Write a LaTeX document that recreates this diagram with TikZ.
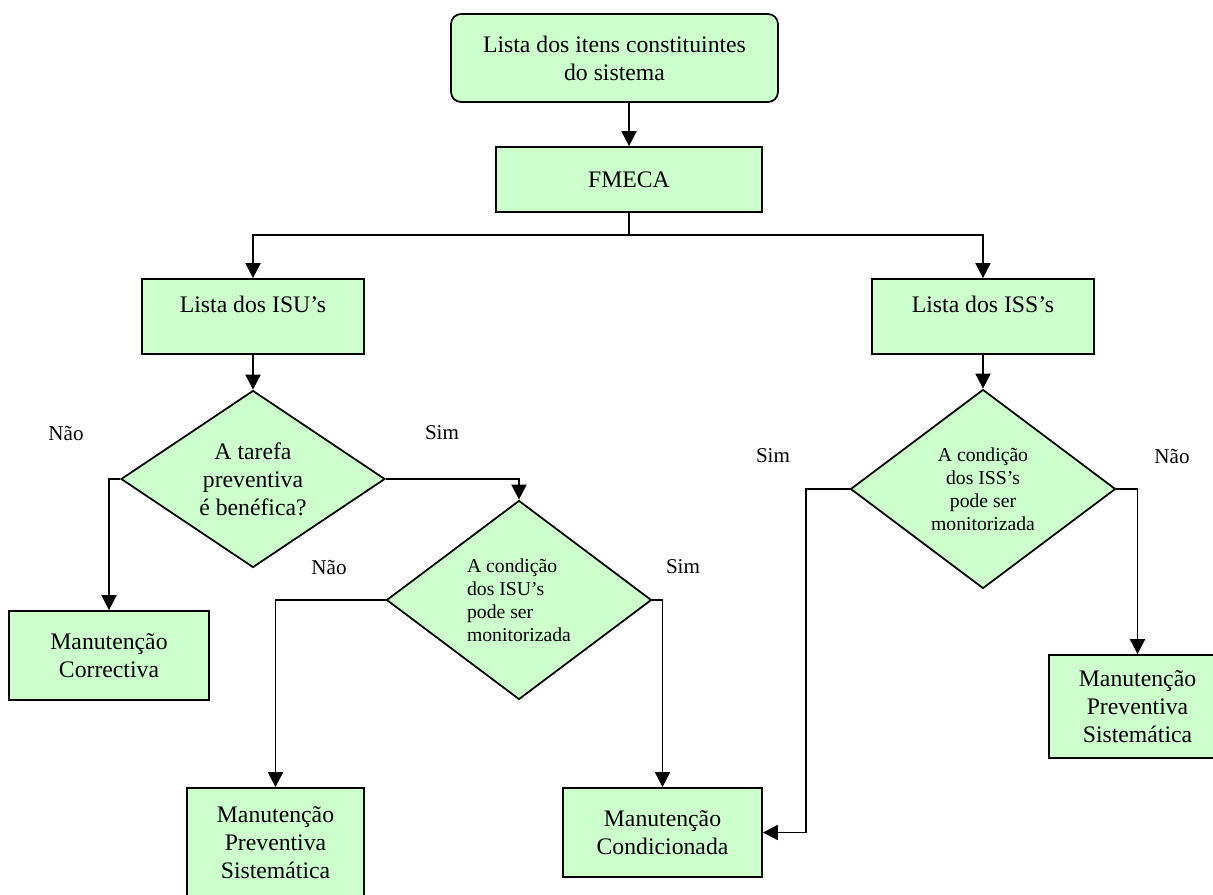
\documentclass[tikz,border=0pt]{standalone}
\usepackage{fontspec}
\setmainfont{Liberation Serif}
\usepackage{xcolor}
\usetikzlibrary{arrows.meta,shapes.geometric}
\definecolor{verdeclaro}{HTML}{CCFFCC}

\begin{document}
\begin{tikzpicture}[
  x=0.02cm, y=-0.02cm,
  caixa/.style={draw, line width=1pt, fill=verdeclaro, align=center, inner sep=0pt, font=\fontsize{13.5}{15.9}\selectfont},
  decisao/.style={draw, diamond, line width=1pt, fill=verdeclaro, inner sep=0pt, aspect=1.33, minimum width=5.3cm, minimum height=3.98cm, font=\fontsize{11.2}{13.1}\selectfont},
  rotulo/.style={font=\fontsize{12}{13}\selectfont},
  seta/.style={-{Triangle[length=0.3cm, width=0.3cm]}, line width=1pt}
]
\useasboundingbox (0,0) rectangle (1213,895);

\node[caixa, rounded corners=0.2cm, minimum width=6.54cm, minimum height=1.76cm] (itens) at (614.5,58) {Lista dos itens constituintes\\do sistema};
\node[caixa, minimum width=5.32cm, minimum height=1.3cm] (fmeca) at (629,179.5) {FMECA};
\coordinate (juncao) at (629,235);
\node[caixa, minimum width=4.44cm, minimum height=1.5cm, text height=0.35cm, text depth=0.53cm] (isu) at (253,316.5) {Lista dos ISU’s};
\node[caixa, minimum width=4.44cm, minimum height=1.5cm, text height=0.35cm, text depth=0.53cm] (iss) at (983,316.5) {Lista dos ISS’s};

\node[decisao, aspect=1.49, minimum width=5.28cm, minimum height=3.54cm, align=center, font=\fontsize{13.5}{15.9}\selectfont] (benefica) at (253,479) {A tarefa\\preventiva\\é benéfica?};
\node[decisao, align=left] (condisu) at (519,600) {A condição\\dos ISU’s\\pode ser\\monitorizada};
\node[decisao, align=center] (condiss) at (983,489) {A condição\\dos ISS’s\\pode ser\\monitorizada};

\node[caixa, minimum width=4cm, minimum height=1.78cm] (correctiva) at (109,655.5) {Manutenção\\Correctiva};
\node[caixa, minimum width=3.54cm, minimum height=2.2cm] (sistisu) at (275.5,843) {Manutenção\\Preventiva\\Sistemática};
\node[caixa, minimum width=3.98cm, minimum height=1.78cm] (condicionada) at (662.5,832.5) {Manutenção\\Condicionada};
\node[caixa, minimum width=3.54cm, minimum height=2.06cm] (sistiss) at (1137.5,706.5) {Manutenção\\Preventiva\\Sistemática};

\node[rotulo] (nao1) at (66,433) {Não};
\node[rotulo] (sim1) at (442,433) {Sim};
\node[rotulo] (nao2) at (329,567) {Não};
\node[rotulo] (sim2) at (683,567) {Sim};
\node[rotulo] (sim3) at (773,456) {Sim};
\node[rotulo] (nao3) at (1172,456) {Não};

\draw[seta] (itens.south -| fmeca.north) -- (fmeca.north);
\draw[line width=1pt] (fmeca.south) -- (juncao);
\draw[seta] (juncao) -| (isu.north);
\draw[seta] (juncao) -| (iss.north);
\draw[seta] (isu) -- (benefica);
\draw[seta] (iss) -- (condiss);
\draw[seta] (benefica.west) -| (correctiva.north);
\draw[seta] (benefica.east) -| (condisu.north);
\draw[seta] (condisu.west) -| (sistisu.north);
\draw[seta] (condisu.east) -| (condicionada.north);
\draw[seta] (condiss.west) -- ++(-44,0) |- (condicionada.east);
\draw[seta] (condiss.east) -| (sistiss.north);
\end{tikzpicture}
\end{document}
